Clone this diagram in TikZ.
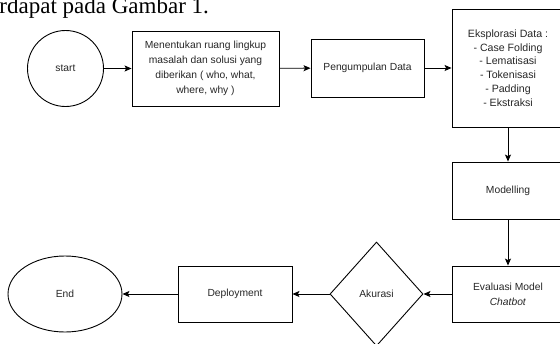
\documentclass[tikz,border=0pt]{standalone}
\usepackage{fontspec}
\setmainfont{Liberation Sans}
\newfontfamily\serifpage{Liberation Serif}
\usetikzlibrary{shapes.geometric,arrows.meta}
\begin{document}
\begin{tikzpicture}[x=1pt,y=-1pt,
  every node/.style={font=\fontsize{10.3}{15}\selectfont, text=black!85, inner sep=0pt, line width=0.9pt},
  proses/.style={draw, rectangle, align=center},
  arus/.style={draw, line width=0.9pt, -{Stealth[length=7pt,width=6pt,inset=1.5pt]}}]
\useasboundingbox (0,0) rectangle (560,343);
\node[anchor=base west, font=\serifpage\fontsize{23}{24}\selectfont, text=black] (kalimat) at (-1,13) {rdapat pada Gambar 1.};

\node[draw, circle, minimum size=76pt] (start) at (65.5,68.5) {start};
\node[proses, minimum width=147pt, minimum height=75pt] (lingkup) at (205.5,68.5)
  {Menentukan ruang lingkup\\masalah dan solusi yang\\diberikan ( who, what,\\where, why )};
\node[proses, minimum width=113pt, minimum height=58pt] (kumpul) at (367.5,68) {Pengumpulan Data};
\node[proses, minimum width=112pt, minimum height=118pt, font=\fontsize{10.6}{13.7}\selectfont] (eksplorasi) at (508,68)
  {Eksplorasi Data :\\- Case Folding\\- Lematisasi\\- Tokenisasi\\- Padding\\- Ekstraksi};
\node[proses, minimum width=112pt, minimum height=57pt] (modelling) at (508,190.5) {Modelling};
\node[proses, minimum width=112pt, minimum height=56pt] (evaluasi) at (508,294) {Evaluasi Model\\\textit{Chatbot}};
\node[draw, diamond, minimum width=93pt, minimum height=104pt] (akurasi) at (376.5,294) {Akurasi};
\node[proses, minimum width=114pt, minimum height=56pt] (deploy) at (235,294) {Deployment};
\node[draw, ellipse, minimum width=114pt, minimum height=76pt] (end) at (65,294) {End};

\draw[arus] (start) -- (lingkup);
\draw[arus] (lingkup) -- (kumpul);
\draw[arus] (kumpul) -- (eksplorasi);
\draw[arus] (eksplorasi) -- (modelling);
\draw[arus] (modelling) -- (evaluasi);
\draw[arus] (evaluasi) -- (akurasi);
\draw[arus] (akurasi) -- (deploy);
\draw[arus] (deploy) -- (end);
\end{tikzpicture}
\end{document}
